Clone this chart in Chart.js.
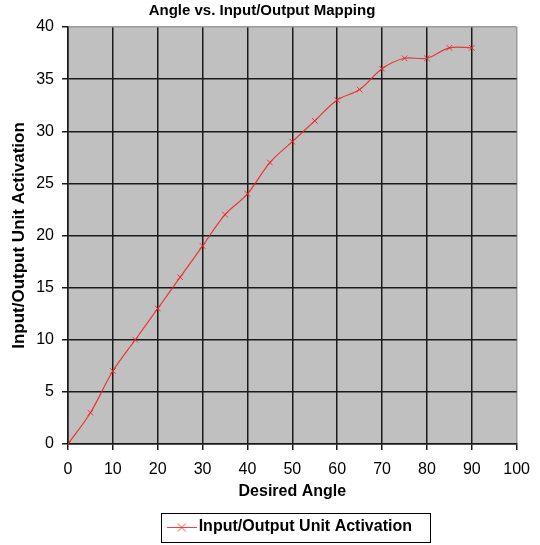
<!DOCTYPE html>
<html>
<head>
<meta charset="utf-8">
<script src="https://cdn.jsdelivr.net/npm/chart.js@4"></script>
<style>
  html, body { margin: 0; padding: 0; background: #fff; }
  #wrap { width: 540px; height: 545px; }
</style>
</head>
<body>
<div id="wrap"><canvas id="chart" width="540" height="545"></canvas></div>
<script>
const angles = [0, 5, 10, 15, 20, 25, 30, 35, 40, 45, 50, 55, 60, 65, 70, 75, 80, 85, 90];
const activation = [0, 3, 7, 10, 13, 16, 19, 22, 24, 27, 29, 31, 33, 34, 36, 37, 37, 38, 38];
const seriesName = 'Input/Output Unit Activation';

const red = 'rgba(240, 30, 30, 0.85)';
const font = 'Arial, "Liberation Sans", sans-serif';

// legend sample: short line with an x marker in the middle
const sample = document.createElement('canvas');
sample.width = 30;
sample.height = 12;
(function () {
  const c = sample.getContext('2d');
  c.strokeStyle = red;
  c.lineWidth = 1;
  c.beginPath();
  c.moveTo(0, 6.5); c.lineTo(30, 6.5);
  c.moveTo(11, 2.5); c.lineTo(19, 10.5);
  c.moveTo(19, 2.5); c.lineTo(11, 10.5);
  c.stroke();
})();

// gray plot background
const plotBg = {
  id: 'plotBg',
  beforeDraw(chart) {
    const a = chart.chartArea;
    const c = chart.ctx;
    c.save();
    c.fillStyle = '#c0c0c0';
    c.fillRect(a.left, a.top, a.right - a.left, a.bottom - a.top);
    c.restore();
  }
};

// frame around the legend
const legendFrame = {
  id: 'legendFrame',
  afterDraw(chart) {
    const box = chart.legend.legendHitBoxes[0];
    if (!box) return;
    const c = chart.ctx;
    const mid = box.top + box.height / 2;
    c.save();
    c.strokeStyle = '#000';
    c.lineWidth = 1;
    c.strokeRect(Math.round(box.left - 12) + 0.5, Math.round(mid - 14) + 0.5,
      Math.round(box.width + 30), 29);
    c.restore();
  }
};

// plot edges (max values) are a light border, inner lines are dark
const gridColor = ctx => {
  if (!ctx.tick) return '#1a1a1a';
  const edge = ctx.scale.axis === 'x' ? 100 : 40;
  return ctx.tick.value === edge ? '#9a9a9a' : '#1a1a1a';
};

new Chart(document.getElementById('chart'), {
  type: 'line',
  data: {
    datasets: [{
      label: seriesName,
      data: angles.map((a, i) => ({ x: a, y: activation[i] })),
      borderColor: red,
      backgroundColor: red,
      borderWidth: 1.2,
      tension: 0.35,
      pointStyle: 'crossRot',
      pointRadius: 4,
      pointBorderWidth: 1,
      pointBorderColor: red,
      fill: false
    }]
  },
  options: {
    responsive: false,
    animation: false,
    layout: { padding: { left: 7, right: 23, top: 0, bottom: 0 } },
    plugins: {
      title: {
        display: true,
        text: 'Angle vs. Input/Output Mapping',
        color: '#000',
        font: { family: font, size: 15, weight: 'bold' },
        padding: { top: 2, bottom: 7 }
      },
      legend: {
        position: 'bottom',
        fullSize: false,
        labels: {
          color: '#000',
          font: { family: font, size: 16, weight: 'bold' },
          usePointStyle: true,
          pointStyleWidth: 18,
          padding: 10,
          generateLabels: chart => [{
            text: seriesName,
            pointStyle: sample,
            fillStyle: red,
            strokeStyle: red,
            lineWidth: 1,
            datasetIndex: 0
          }]
        }
      },
      tooltip: { enabled: false }
    },
    scales: {
      x: {
        type: 'linear',
        min: 0,
        max: 100,
        ticks: { stepSize: 10, color: '#000', padding: 10, font: { family: font, size: 16 } },
        grid: { color: gridColor, lineWidth: 1.5, tickLength: 6, tickColor: '#1a1a1a' },
        border: { color: '#1a1a1a', width: 1.5 },
        title: {
          display: true,
          text: 'Desired Angle',
          color: '#000',
          font: { family: font, size: 16, weight: 'bold' },
          padding: { top: 4, bottom: 8 }
        },
        afterFit(scale) { scale.height = 65; }
      },
      y: {
        min: 0,
        max: 40,
        ticks: { stepSize: 5, color: '#000', padding: 8, font: { family: font, size: 16 } },
        grid: { color: gridColor, lineWidth: 1.5, tickLength: 6, tickColor: '#1a1a1a' },
        border: { color: '#1a1a1a', width: 1.5 },
        title: {
          display: true,
          text: 'Input/Output Unit Activation',
          color: '#000',
          font: { family: font, size: 17, weight: 'bold' },
          padding: { top: 2, bottom: 4 }
        },
        afterFit(scale) { scale.width = 61; }
      }
    }
  },
  plugins: [plotBg, legendFrame]
});
</script>
</body>
</html>
